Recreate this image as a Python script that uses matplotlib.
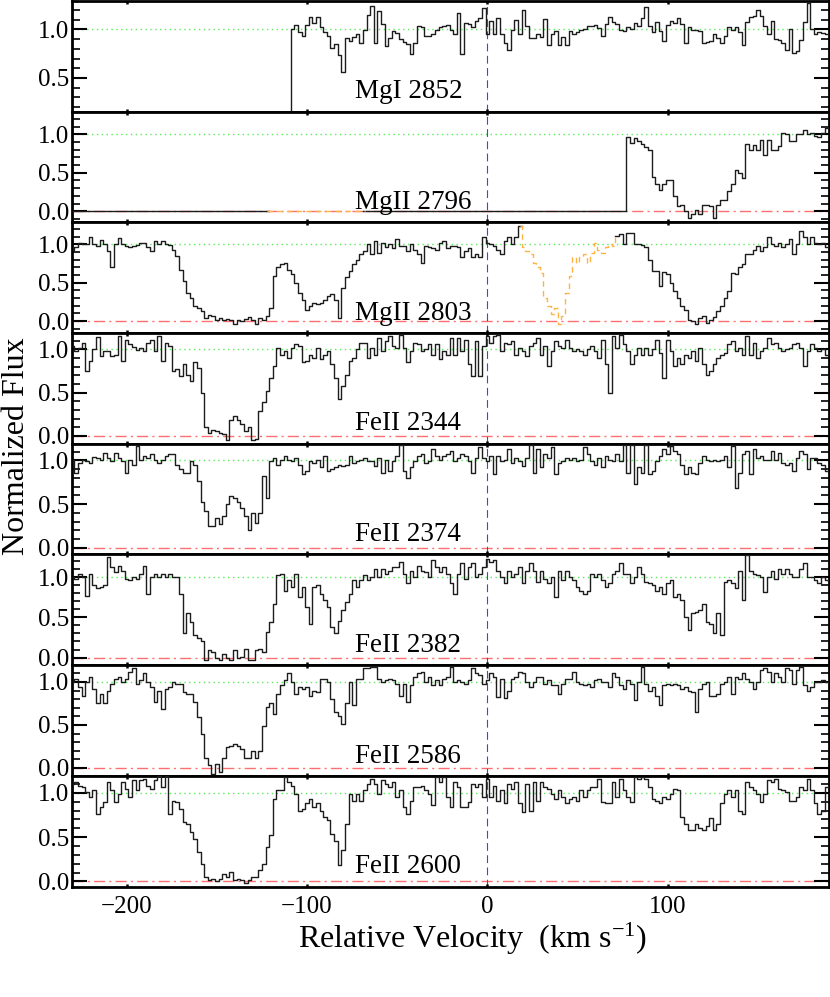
import numpy as np
import matplotlib
matplotlib.use("Agg")
import matplotlib.pyplot as plt
from matplotlib.ticker import MultipleLocator, FixedLocator

plt.rcParams['font.family'] = ['Liberation Serif', 'DejaVu Serif']
plt.rcParams['mathtext.fontset'] = 'custom'
plt.rcParams['mathtext.rm'] = 'Liberation Serif'
plt.rcParams['mathtext.it'] = 'Liberation Serif:italic'

# ---------------- data ----------------
V_START, V_STEP = -230.0, 2.0

labels = ["MgI 2852", "MgII 2796", "MgII 2803", "FeII 2344",
          "FeII 2374", "FeII 2382", "FeII 2586", "FeII 2600"]

mgi2852_left = [0.0] * 61 + [
    1.0, 1.04, 0.97, 0.93, 1.04, 1.13, 1.06, 1.13, 1.02, 0.97,
    0.93, 0.81, 0.85, 0.74, 0.56, 0.91, 0.88, 0.92, 0.95, 0.86,
    0.99, 1.15, 1.24, 0.86, 1.19, 1.05, 0.83, 0.91, 0.98, 0.96,
    0.9, 0.87, 0.85, 0.75, 0.86]
mgi2852_right = [1.03,
    1.02, 0.93, 0.93, 0.95, 0.99, 1.02, 1.03, 1.04, 0.99, 0.95,
    1.17, 0.75, 1.06, 1.05, 1.02, 1.09, 1.12, 1.22, 0.95, 1.09,
    0.95, 1.12, 0.95, 0.86, 0.79, 0.99, 1.1, 0.95, 1.2, 1.03,
    0.91, 0.91, 0.95, 0.92, 1.11, 0.84, 0.95, 0.98, 0.84, 0.92,
    0.84, 0.98, 0.95, 0.97, 0.99, 1.0, 1.03, 1.03, 1.04, 1.01,
    0.93, 1.05, 1.13, 1.08, 1.05, 0.99, 0.98, 1.02, 1.0, 1.06,
    1.03, 1.12, 1.23, 1.03, 0.97, 1.08, 0.98, 0.88, 1.04, 1.09,
    1.06, 1.12, 1.05, 0.86, 1.02, 0.99, 0.99, 0.98, 0.86, 0.87,
    0.88, 0.95, 0.91, 0.86, 0.93, 1.02, 0.99, 1.02, 0.97, 0.84,
    1.08, 1.13, 1.14, 1.2, 1.14, 1.03, 0.95, 1.09, 0.9, 0.89,
    0.86, 0.79, 1.0, 0.76, 0.78, 0.89, 1.07, 1.27, 1.0, 0.95,
    0.97, 0.96, 0.95, 0.95]

mgii2796_left = [0.0] * 96
mgii2796_right = [0.0] * 58 + [
    0.96, 0.89, 0.95, 0.91, 0.87, 0.83, 0.8, 0.45, 0.35, 0.27,
    0.36, 0.41, 0.41, 0.2, 0.07, 0.08, 0.0, -0.09, -0.04, 0.02,
    -0.04, 0.08, 0.08, 0.07, -0.09, 0.08, 0.14, 0.15, 0.26, 0.36,
    0.54, 0.5, 0.43, 0.87, 0.8, 0.86, 0.8, 0.92, 0.73, 0.92,
    0.79, 0.8, 0.85, 1.01, 1.0, 0.91, 0.91, 1.0, 1.0, 1.05,
    1.0, 1.02, 0.98, 0.97, 1.02, 1.08, 1.1]

mgii2803_left = [
    0.93, 0.97, 1.02, 1.0, 1.0, 1.1, 1.0, 0.98, 1.05, 1.0,
    0.91, 0.7, 1.0, 1.08, 1.0, 0.98, 0.96, 0.98, 0.99, 1.02,
    1.02, 0.97, 0.91, 1.04, 1.0, 1.04, 1.0, 0.99, 0.93, 0.85,
    0.66, 0.52, 0.36, 0.3, 0.2, 0.17, 0.13, 0.04, 0.08, 0.07,
    0.02, 0.04, 0.01, 0.03, 0.02, -0.04, 0.02, 0.0, 0.03, 0.05,
    0.02, -0.04, 0.04, 0.01, 0.07, 0.17, 0.59, 0.7, 0.74, 0.76,
    0.67, 0.61, 0.5, 0.37, 0.28, 0.15, 0.2, 0.24, 0.22, 0.24,
    0.28, 0.33, 0.35, 0.28, 0.04, 0.43, 0.57, 0.65, 0.74, 0.8,
    0.87, 0.91, 1.0, 0.87, 1.04, 0.89, 1.02, 0.96, 1.0, 0.95,
    1.07, 0.98, 0.98, 0.91, 1.0, 0.93]
mgii2803_right = [
    0.87, 0.76, 0.98, 0.96, 0.95, 0.93, 1.02, 1.04, 0.95, 0.98,
    0.98, 0.96, 0.83, 0.91, 0.95, 0.83, 0.87, 0.83, 1.09, 1.02,
    1.0, 0.98, 0.93, 0.88, 1.04, 1.09, 1.0, 1.1, 1.24, 0.96,
    0.91, 0.87, 0.76, 0.7, 0.63, 0.3, 0.2, 0.09, 0.17, -0.04,
    0.06, 0.37, 0.59, 0.83, 0.76, 0.83, 0.87, 0.76, 0.89, 1.02,
    0.93, 0.89, 0.96, 1.0, 0.98, 1.11, 1.13, 1.0, 1.15, 1.15,
    1.0, 1.0, 0.99, 0.96, 0.8, 0.65, 0.65, 0.46, 0.64, 0.61,
    0.5, 0.39, 0.3, 0.2, 0.15, 0.02, 0.0, -0.04, 0.04, 0.07,
    -0.02, 0.02, 0.05, 0.13, 0.2, 0.3, 0.39, 0.63, 0.61, 0.7,
    0.74, 0.87, 0.88, 0.93, 0.98, 0.91, 0.96, 1.1, 1.0, 0.98,
    1.02, 0.96, 1.0, 1.07, 0.87, 1.0, 1.17, 1.09, 1.0, 1.09,
    1.02, 1.0, 1.02, 0.96, 0.96]

feii2344_left = [
    1.04, 0.98, 1.02, 1.08, 0.75, 0.87, 1.0, 1.14, 0.92, 0.98,
    0.98, 0.92, 0.94, 1.16, 0.87, 1.11, 1.06, 1.03, 0.99, 1.02,
    0.98, 1.07, 1.11, 0.98, 1.16, 0.87, 1.07, 1.04, 0.75, 0.77,
    0.69, 0.83, 0.71, 0.64, 0.85, 0.79, 0.5, 0.1, 0.04, 0.07,
    0.06, 0.04, 0.02, -0.05, 0.18, 0.23, 0.18, 0.14, 0.06, 0.1,
    -0.05, -0.03, 0.29, 0.39, 0.52, 0.67, 0.81, 1.02, 0.94, 0.98,
    0.9, 1.02, 1.06, 1.04, 0.85, 0.87, 0.94, 0.9, 1.02, 0.89,
    0.94, 0.98, 0.83, 0.67, 0.43, 0.58, 0.71, 0.87, 0.9, 1.0,
    1.08, 1.08, 0.9, 1.02, 0.94, 1.13, 0.98, 1.1, 1.15, 1.04,
    1.02, 1.17, 1.02, 0.85, 0.98, 1.08]
feii2344_right = [
    1.06, 0.98, 1.0, 1.06, 0.94, 1.06, 0.89, 0.98, 0.94, 1.13,
    0.94, 1.13, 0.98, 1.11, 0.83, 0.69, 1.1, 0.69, 1.04, 1.15,
    1.08, 1.15, 1.17, 0.98, 1.08, 1.06, 1.1, 0.94, 1.02, 0.98,
    0.92, 1.04, 1.08, 1.13, 0.94, 1.04, 0.81, 0.98, 1.1, 1.04,
    1.02, 1.11, 1.02, 0.98, 1.0, 0.98, 0.94, 1.0, 1.04, 0.98,
    0.9, 1.11, 0.83, 0.5, 1.15, 1.02, 1.17, 1.06, 0.98, 0.83,
    0.94, 1.02, 0.94, 1.02, 0.94, 1.0, 1.11, 0.96, 0.67, 1.11,
    0.98, 0.81, 0.9, 0.83, 0.94, 0.9, 0.98, 0.87, 1.02, 0.83,
    0.71, 0.75, 0.83, 0.9, 0.94, 0.96, 1.06, 1.1, 0.98, 1.02,
    0.94, 1.15, 0.94, 1.08, 0.9, 0.98, 1.02, 1.13, 1.06, 1.08,
    1.02, 0.98, 1.0, 1.02, 1.06, 1.08, 1.02, 0.81, 0.98, 1.06,
    1.02, 0.98, 1.0, 0.94, 0.94]

feii2374_left = [
    1.01, 0.86, 0.97, 1.01, 0.99, 0.97, 1.04, 1.03, 1.01, 1.09,
    1.03, 0.99, 1.08, 1.03, 0.99, 0.86, 1.01, 0.95, 1.16, 1.01,
    1.05, 1.03, 1.07, 1.01, 0.97, 1.01, 1.05, 1.07, 1.07, 0.95,
    0.9, 0.86, 0.86, 0.99, 0.95, 0.76, 0.52, 0.42, 0.25, 0.25,
    0.34, 0.27, 0.36, 0.5, 0.59, 0.57, 0.53, 0.46, 0.36, 0.21,
    0.4, 0.29, 0.4, 0.82, 0.57, 0.99, 1.03, 0.95, 1.01, 1.05,
    1.01, 0.99, 1.03, 0.95, 0.84, 0.88, 0.99, 0.97, 1.01, 0.92,
    1.05, 0.88, 0.9, 0.92, 0.95, 0.94, 0.95, 1.05, 0.97, 0.99,
    1.01, 1.03, 0.99, 0.99, 0.94, 1.03, 0.86, 1.01, 0.88, 0.99,
    1.05, 1.18, 0.88, 0.8, 0.92, 0.99]
feii2374_right = [
    1.05, 1.07, 0.97, 0.99, 1.13, 1.05, 1.01, 1.05, 1.07, 1.11,
    0.99, 1.03, 1.07, 1.05, 0.99, 0.86, 1.03, 1.15, 1.03, 0.99,
    1.05, 0.84, 1.05, 0.99, 1.01, 1.13, 0.97, 1.03, 0.99, 0.94,
    1.03, 1.18, 0.86, 1.13, 0.92, 1.07, 1.03, 1.15, 0.84, 0.97,
    0.99, 1.03, 1.01, 1.03, 0.99, 1.01, 1.15, 1.07, 0.99, 0.95,
    1.03, 0.92, 1.05, 1.01, 0.99, 1.07, 0.99, 1.18, 0.86, 1.18,
    0.73, 0.92, 0.86, 1.18, 0.84, 0.88, 0.99, 1.05, 1.13, 1.07,
    1.16, 1.11, 1.07, 0.95, 0.84, 0.92, 0.86, 0.84, 0.97, 1.05,
    1.01, 0.99, 1.01, 0.99, 1.01, 1.05, 0.92, 1.16, 0.69, 0.86,
    1.07, 1.11, 0.84, 1.13, 1.03, 1.05, 1.01, 1.01, 1.11, 1.01,
    1.09, 0.97, 0.95, 0.97, 0.88, 1.03, 1.11, 1.07, 0.9, 1.03,
    1.03, 0.97, 0.95, 0.88, 0.88]

feii2382_left = [
    1.0, 0.98, 1.04, 1.0, 0.77, 1.04, 0.9, 0.86, 0.88, 0.9,
    1.25, 1.12, 1.06, 1.14, 1.08, 0.98, 0.96, 1.0, 0.98, 1.04,
    1.14, 0.79, 1.0, 1.04, 1.0, 1.04, 1.0, 1.04, 1.0, 1.0,
    0.79, 0.3, 0.55, 0.44, 0.28, 0.24, 0.21, -0.03, 0.09, 0.07,
    -0.01, -0.03, 0.05, -0.01, -0.03, 0.09, -0.01, 0.01, 0.11, -0.03,
    -0.03, 0.09, 0.11, 0.07, 0.32, 0.44, 0.67, 1.02, 1.04, 0.83,
    0.96, 0.88, 1.04, 0.75, 0.88, 0.63, 0.42, 0.88, 0.9, 0.79,
    0.71, 0.63, 0.38, 0.3, 0.46, 0.59, 0.69, 0.79, 0.96, 0.88,
    0.96, 1.02, 0.96, 1.0, 1.1, 1.0, 1.1, 1.04, 1.08, 1.12,
    1.12, 1.19, 1.04, 0.92, 1.08, 1.0]
feii2382_right = [
    1.14, 1.08, 1.06, 1.0, 1.21, 1.12, 1.06, 1.12, 1.04, 0.92,
    0.79, 1.04, 1.17, 0.98, 1.12, 1.17, 1.0, 1.04, 1.12, 1.23,
    1.19, 1.21, 1.08, 1.0, 0.92, 1.08, 1.0, 1.04, 1.12, 0.92,
    1.08, 1.17, 1.08, 0.94, 1.08, 0.98, 0.92, 1.0, 0.75, 1.08,
    0.96, 1.08, 1.0, 0.96, 0.88, 0.83, 0.79, 0.83, 1.04, 1.0,
    1.04, 0.96, 0.88, 0.92, 1.04, 1.08, 1.17, 1.04, 1.04, 0.92,
    1.0, 1.12, 1.04, 0.94, 0.92, 0.9, 0.83, 0.88, 0.79, 0.92,
    0.96, 0.75, 0.79, 0.71, 0.5, 0.34, 0.55, 0.57, 0.59, 0.67,
    0.44, 0.42, 0.3, 0.55, 0.28, 0.94, 0.96, 0.92, 0.86, 1.08,
    0.71, 1.27, 1.08, 1.04, 1.02, 1.0, 0.81, 1.0, 1.08, 0.98,
    1.1, 1.04, 1.1, 1.04, 1.0, 1.0, 1.1, 1.17, 1.0, 1.0,
    0.96, 0.92, 1.0, 0.96, 0.96]

feii2586_left = [
    1.0, 1.04, 0.94, 0.84, 1.0, 1.06, 0.92, 0.75, 0.86, 0.75,
    0.9, 0.98, 1.04, 1.06, 1.0, 1.04, 1.12, 1.16, 0.98, 1.02,
    1.1, 1.0, 0.94, 0.77, 0.9, 0.69, 0.92, 0.94, 1.0, 0.98,
    0.98, 0.88, 0.86, 0.86, 0.77, 0.59, 0.4, 0.12, 0.03, -0.07,
    0.05, -0.05, 0.12, 0.24, 0.26, 0.28, 0.26, 0.22, 0.12, 0.12,
    0.2, 0.12, 0.2, 0.49, 0.71, 0.75, 0.63, 0.86, 0.96, 1.02,
    1.1, 1.0, 0.86, 0.94, 0.92, 0.94, 0.84, 0.9, 0.88, 1.04,
    1.04, 1.0, 0.8, 0.65, 0.6, 0.51, 0.75, 1.0, 0.73, 1.04,
    1.04, 1.16, 1.16, 1.18, 1.18, 1.04, 1.0, 1.02, 1.04, 1.02,
    0.98, 0.84, 0.98, 0.77, 0.96, 1.06]
feii2586_right = [
    1.1, 1.12, 1.0, 1.06, 0.96, 1.02, 0.96, 1.04, 1.06, 1.18,
    1.0, 1.02, 1.0, 0.98, 1.02, 1.16, 1.1, 1.08, 0.98, 1.02,
    1.1, 1.06, 0.82, 1.04, 0.81, 0.9, 1.04, 1.06, 1.12, 1.1,
    1.0, 0.94, 1.0, 1.06, 1.06, 0.98, 1.02, 0.96, 0.96, 0.86,
    0.98, 1.04, 1.04, 1.12, 1.0, 0.98, 0.96, 0.98, 0.94, 1.02,
    1.04, 1.0, 1.0, 0.94, 1.1, 1.06, 0.96, 0.92, 1.02, 0.98,
    0.79, 1.0, 1.18, 0.98, 0.9, 0.94, 0.84, 0.73, 0.96, 0.98,
    0.96, 0.98, 0.96, 0.92, 0.94, 0.9, 0.88, 0.65, 0.92, 0.98,
    1.0, 0.84, 0.84, 0.86, 0.98, 1.0, 1.06, 0.86, 1.06, 1.04,
    1.1, 1.04, 1.0, 0.92, 1.0, 1.14, 1.16, 1.12, 1.0, 1.1,
    1.06, 1.0, 1.16, 1.14, 0.98, 1.14, 1.18, 0.96, 0.9, 0.94,
    1.0, 1.0, 1.02, 1.0, 1.0]

feii2600_left = [
    1.1, 1.12, 1.08, 1.06, 1.01, 0.95, 1.03, 0.76, 0.84, 0.9,
    1.12, 1.03, 0.9, 0.99, 1.12, 1.04, 0.95, 1.14, 1.03, 1.14,
    1.16, 1.08, 1.04, 1.14, 1.19, 1.06, 1.19, 0.76, 0.91, 0.9,
    0.82, 0.67, 0.65, 0.56, 0.48, 0.33, 0.2, 0.05, 0.01, 0.03,
    0.0, 0.03, 0.08, 0.05, 0.11, 0.01, 0.03, 0.01, -0.02, 0.01,
    0.05, 0.05, 0.13, 0.2, 0.39, 0.52, 0.93, 1.03, 1.03, 1.18,
    1.12, 1.08, 0.99, 0.8, 0.82, 0.88, 0.93, 0.84, 0.88, 0.8,
    0.73, 0.69, 0.54, 0.46, 0.18, 0.35, 0.65, 0.99, 0.91, 0.99,
    0.91, 1.03, 1.1, 1.16, 1.1, 0.99, 1.14, 1.1, 1.06, 1.12,
    0.95, 1.03, 0.84, 0.76, 0.91, 1.06]
feii2600_right = [
    1.06, 1.08, 1.03, 0.99, 0.86, 1.18, 1.12, 1.18, 0.95, 0.84,
    1.12, 1.06, 0.84, 0.84, 0.9, 1.1, 1.06, 1.1, 0.95, 1.16,
    0.95, 1.08, 0.91, 1.03, 0.88, 1.1, 1.04, 1.12, 0.88, 0.78,
    1.1, 0.8, 1.12, 0.91, 1.12, 1.06, 1.04, 0.99, 0.93, 1.03,
    0.95, 0.88, 0.93, 0.95, 0.91, 1.03, 0.95, 1.03, 1.06, 1.06,
    1.16, 0.9, 0.88, 0.88, 1.12, 0.95, 1.16, 1.03, 0.95, 0.9,
    1.18, 1.16, 1.18, 1.16, 1.06, 0.93, 0.91, 0.88, 0.95, 0.93,
    0.99, 1.04, 1.03, 0.73, 0.65, 0.58, 0.58, 0.65, 0.6, 0.58,
    0.63, 0.71, 0.58, 0.65, 0.88, 0.99, 1.03, 0.95, 1.03, 0.8,
    0.76, 1.12, 1.06, 1.03, 0.99, 0.9, 0.99, 1.14, 1.12, 1.16,
    1.04, 1.03, 1.01, 0.91, 0.91, 0.95, 1.06, 1.03, 1.16, 1.03,
    0.88, 0.76, 0.8, 1.06, 1.06]

fluxes = [
    mgi2852_left + mgi2852_right,
    mgii2796_left + mgii2796_right,
    mgii2803_left + mgii2803_right,
    feii2344_left + feii2344_right,
    feii2374_left + feii2374_right,
    feii2382_left + feii2382_right,
    feii2586_left + feii2586_right,
    feii2600_left + feii2600_right,
]

# velocity ranges drawn as blends (orange)
blends = {1: (-120.0, -70.0), 2: (20.0, 70.0)}

ylims = [(0.155, 1.293), (-0.143, 1.295), (-0.156, 1.287), (-0.09, 1.19),
         (-0.075, 1.19), (-0.095, 1.28), (-0.093, 1.195), (-0.06, 1.19)]

XMIN, XMAX = -230.3, 189.1

# ---------------- figure ----------------
fig = plt.figure(figsize=(8.3, 9.97), dpi=100)
L, R = 72.0 / 830, 828.5 / 830
B = 1 - 886.7 / 997
T = 1 - 0.8 / 997
h = (T - B) / 8

for i in range(8):
    f = np.array(fluxes[i], dtype=float)
    n_expected = 211
    if len(f) != n_expected:
        print("WARNING panel", i, "has", len(f), "values")
        if len(f) < n_expected:
            f = np.concatenate([f, np.full(n_expected - len(f), f[-1])])
        else:
            f = f[:n_expected]
    v = V_START + V_STEP * np.arange(len(f))

    ax = fig.add_axes([L, T - (i + 1) * h, R - L, h])
    ax.set_xlim(XMIN, XMAX)
    ax.set_ylim(*ylims[i])

    ax.axhline(1.0, color='#55ee55', lw=1.0, ls=(0, (1, 2.5)), zorder=1)
    ax.axhline(0.0, color='#ff6f6f', lw=1.0, ls=(0, (8, 3, 1.5, 3)), zorder=1)
    ax.axvline(0.0, color='#3a4ad8', lw=0.8, ls=(0, (7, 4)), zorder=1)

    if i in blends:
        lo, hi = blends[i]
        m = (v >= lo) & (v <= hi)
        fb = np.where(m, np.nan, f)
        ax.plot(v, fb, drawstyle='steps-mid', color='#1c1c1c', lw=1.0, zorder=3)
        idx = np.where(m)[0]
        sl = slice(max(idx[0] - 1, 0), min(idx[-1] + 2, len(f)))
        ax.plot(v[sl], f[sl], drawstyle='steps-mid', color='#ffb347', lw=1.0,
                ls=(0, (4, 3)), zorder=4)
    else:
        ax.plot(v, f, drawstyle='steps-mid', color='#1c1c1c', lw=1.0, zorder=3)

    ax.text(0.374, 0.12, labels[i], transform=ax.transAxes, ha='left',
            va='baseline', fontsize=19.5, zorder=5)

    ax.yaxis.set_major_locator(FixedLocator([0.0, 0.5, 1.0]))
    ax.yaxis.set_minor_locator(MultipleLocator(0.1))
    ax.set_yticklabels(["0.0", "0.5", "1.0"])
    ax.xaxis.set_major_locator(FixedLocator([-200, -100, 0, 100]))
    ax.tick_params(axis='y', which='major', direction='in', length=10.5,
                   width=1.5, left=True, right=True, labelsize=18, pad=2)
    ax.tick_params(axis='y', which='minor', direction='in', length=6,
                   width=1.2, left=True, right=True)
    ax.tick_params(axis='x', which='major', direction='in', length=2.5,
                   width=1.8, top=True, bottom=True, labelsize=18, pad=7)
    if i < 7:
        ax.tick_params(axis='x', labelbottom=False)
    for s in ax.spines.values():
        s.set_linewidth(2.0)

fig.text(24.0 / 830, 0.552, "Normalized Flux", rotation=90,
         rotation_mode='anchor', ha='center', va='baseline', fontsize=23)
fig.text(0.569, 0.058, "Relative Velocity  (km s$^{-1}$)", ha='center',
         va='center', fontsize=23)

fig.savefig("out.png", dpi=100)
